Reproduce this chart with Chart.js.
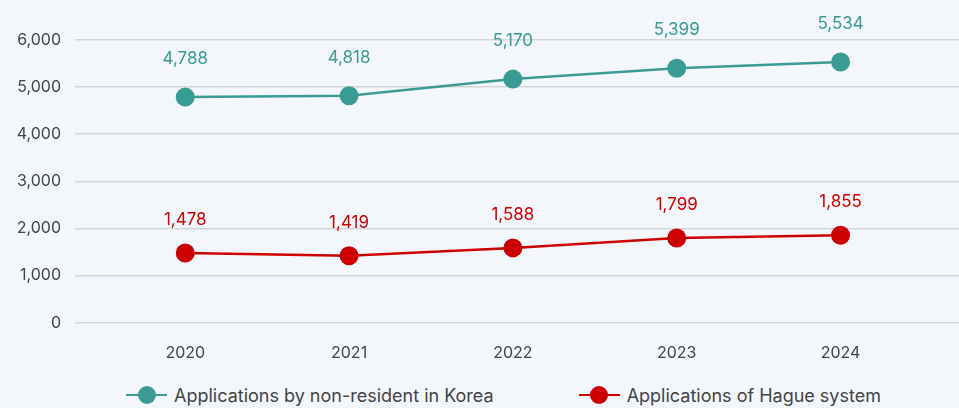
<!DOCTYPE html>
<html>
<head>
<meta charset="utf-8">
<script src="https://cdn.jsdelivr.net/npm/chart.js@4.4.1/dist/chart.umd.min.js"></script>
<style>
  html, body { margin: 0; padding: 0; background: #f3f7fb; }
  #wrap { position: relative; width: 959px; height: 408px; font-family: Inter, sans-serif; }
  #chartBox { position: absolute; left: 0; top: 0; width: 959px; height: 370px; }
  #legend { position: absolute; left: 48px; right: 0; top: 383px; height: 24px; display: flex; justify-content: center; gap: 85px; font-size: 18px; color: #444; }
  .item { display: flex; align-items: center; white-space: nowrap; }
  .mark { position: relative; width: 41px; height: 2.5px; margin-right: 7px; }
  .mark::after { content: ''; position: absolute; left: 50%; top: 50%; width: 18px; height: 18px; border-radius: 50%; background: inherit; transform: translate(-50%, -50%); }
</style>
</head>
<body>
<div id="wrap">
  <div id="chartBox"><canvas id="chart"></canvas></div>
  <div id="legend"></div>
</div>
<script>
const years = [2020, 2021, 2022, 2023, 2024];
const nonResident = [4788, 4818, 5170, 5399, 5534];
const hague = [1478, 1419, 1588, 1799, 1855];
const seriesNames = ['Applications by non-resident in Korea', 'Applications of Hague system'];
const yTicks = [0, 1000, 2000, 3000, 4000, 5000, 6000];

const colors = ['#3a9b95', '#cc0000'];

// value labels above each point
const valueLabels = {
    id: 'valueLabels',
    afterDatasetsDraw(chart) {
        const ctx = chart.ctx;
        chart.data.datasets.forEach((ds, i) => {
            const meta = chart.getDatasetMeta(i);
            ctx.save();
            ctx.font = '17px Inter, sans-serif';
            ctx.fillStyle = ds.borderColor;
            ctx.textAlign = 'center';
            ctx.textBaseline = 'middle';
            meta.data.forEach((pt, j) => {
                ctx.fillText(ds.data[j].y.toLocaleString('en-US'), pt.x, pt.y - ds.labelOffset);
            });
            ctx.restore();
        });
    }
};

function makeDataset(label, values, color, offset) {
    return {
        label,
        data: values.map((v, i) => ({ x: years[i], y: v })),
        borderColor: color,
        backgroundColor: color,
        borderWidth: 2.5,
        pointRadius: 9.5,
        pointBorderWidth: 0,
        pointBackgroundColor: color,
        tension: 0,
        clip: false,
        labelOffset: offset
    };
}

const ctx = document.getElementById('chart').getContext('2d');
new Chart(ctx, {
    type: 'line',
    data: {
        datasets: [
            makeDataset(seriesNames[0], nonResident, colors[0], 38),
            makeDataset(seriesNames[1], hague, colors[1], 33)
        ]
    },
    options: {
        responsive: true,
        maintainAspectRatio: false,
        animation: false,
        devicePixelRatio: 1,
        layout: { autoPadding: false, padding: { top: 40, left: 0, right: 0, bottom: 0 } },
        plugins: {
            legend: { display: false },
            tooltip: { enabled: false }
        },
        scales: {
            x: {
                type: 'linear',
                min: 2019.327,
                max: 2024.723,
                grid: { display: false, drawTicks: false },
                border: { display: false },
                afterBuildTicks: s => { s.ticks = years.map(v => ({ value: v })); },
                afterFit: s => { s.height = 47.3; s.paddingLeft = 0; s.paddingRight = 0; },
                ticks: {
                    padding: 21,
                    color: '#444',
                    font: { family: 'Inter', size: 16 },
                    callback: v => String(v)
                }
            },
            y: {
                min: 0,
                max: 6000,
                grid: { color: '#d3d6d9', lineWidth: 1.5, drawTicks: false },
                border: { display: false },
                afterBuildTicks: s => { s.ticks = yTicks.map(v => ({ value: v })); },
                afterFit: s => { s.width = 75; },
                ticks: {
                    padding: 14,
                    color: '#444',
                    font: { family: 'Inter', size: 16 },
                    callback: v => v.toLocaleString('en-US')
                }
            }
        }
    },
    plugins: [valueLabels]
});

// legend
const legend = document.getElementById('legend');
seriesNames.forEach((name, i) => {
    const item = document.createElement('div');
    item.className = 'item';
    const mark = document.createElement('span');
    mark.className = 'mark';
    mark.style.background = colors[i];
    const text = document.createElement('span');
    text.textContent = name;
    item.appendChild(mark);
    item.appendChild(text);
    legend.appendChild(item);
});
</script>
</body>
</html>
